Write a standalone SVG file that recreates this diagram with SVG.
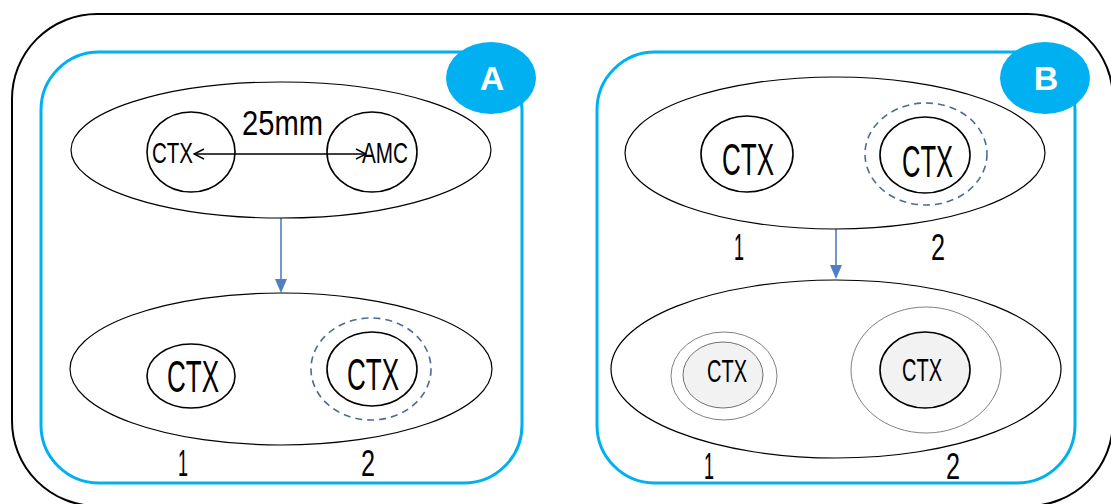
<svg xmlns="http://www.w3.org/2000/svg" width="1111" height="504" viewBox="0 0 1111 504">
<defs>
<style>
.t{font-family:"Liberation Sans",Arial,sans-serif;fill:#000;text-anchor:middle}
.big{font-size:45px}
.mid{font-size:31px}
.num{font-size:36px}
.panel{fill:none;stroke:#00B0F0;stroke-width:3}
.ell{fill:#fff;stroke:#000;stroke-width:1.2}
.cir{fill:none;stroke:#000;stroke-width:1.6}
.dash{fill:none;stroke:#4D6B94;stroke-width:1.6;stroke-dasharray:7 5}
.thin{fill:none;stroke:#808080;stroke-width:1}
.fillc{fill:#F2F2F2}
.badge{fill:#00B0F0}
.bt{font-family:"Liberation Sans",Arial,sans-serif;font-weight:bold;font-size:34px;fill:#fff;text-anchor:middle}
.flow{stroke:#4F7FC0;stroke-width:1.6;fill:none}
</style>
<marker id="open" viewBox="0 0 12 12" refX="11" refY="6" markerWidth="12" markerHeight="12" markerUnits="userSpaceOnUse" orient="auto-start-reverse">
<path d="M1,1 L11,6 L1,11" fill="none" stroke="#000" stroke-width="1.4"/>
</marker>
</defs>

<rect id="frame" x="12" y="14" width="1101" height="492" rx="85" fill="none" stroke="#000" stroke-width="2"/>

<g id="panelA">
<rect class="panel" x="41" y="52" width="481" height="431" rx="58"/>
</g>
<g id="panelB">
<rect class="panel" x="597" y="52" width="478" height="431" rx="58"/>
</g>

<g id="connectors">
<line class="flow" x1="281" y1="218" x2="281" y2="279" />
<path d="M275,279 L287,279 L281,293 Z" fill="#4F7FC0"/>
<line class="flow" x1="836" y1="229" x2="836" y2="265"/>
<path d="M830,265 L842,265 L836,279 Z" fill="#4F7FC0"/>
</g>

<g id="badgeA">
<ellipse class="badge" cx="491" cy="78" rx="45" ry="36"/>
<text class="bt" x="492" y="90">A</text>
</g>
<g id="badgeB">
<ellipse class="badge" cx="1045" cy="78" rx="45" ry="36"/>
<text class="bt" x="1046" y="90">B</text>
</g>

<g id="A-top">
<ellipse class="ell" cx="281" cy="150" rx="210" ry="68"/>
<ellipse class="cir" cx="191" cy="152" rx="44" ry="40"/>
<ellipse class="cir" cx="372" cy="152" rx="45" ry="40"/>
<text class="t" style="font-size:29px" x="172.5" y="163" textLength="41" lengthAdjust="spacingAndGlyphs">CTX</text>
<text class="t" style="font-size:29px" x="385" y="163" textLength="46" lengthAdjust="spacingAndGlyphs">AMC</text>
<text class="t" style="font-size:35px" x="282.5" y="135" textLength="81" lengthAdjust="spacingAndGlyphs">25mm</text>
<line x1="194" y1="154" x2="366" y2="154" stroke="#000" stroke-width="1.4" marker-start="url(#open)" marker-end="url(#open)"/>
</g>

<g id="A-bottom">
<ellipse class="ell" cx="281" cy="369" rx="211" ry="76"/>
<ellipse class="cir" cx="191" cy="376" rx="44" ry="32"/>
<text class="t big" x="193" y="392" textLength="52" lengthAdjust="spacingAndGlyphs">CTX</text>
<ellipse class="dash" cx="371" cy="369" rx="60" ry="51"/>
<ellipse class="cir" cx="372" cy="369" rx="45" ry="37"/>
<text class="t big" x="373" y="390" textLength="52" lengthAdjust="spacingAndGlyphs">CTX</text>
</g>
<text class="t num" x="183" y="476" textLength="10" lengthAdjust="spacingAndGlyphs">1</text>
<text class="t num" x="368" y="476" textLength="14" lengthAdjust="spacingAndGlyphs">2</text>

<g id="B-top">
<ellipse class="ell" cx="835" cy="153" rx="210" ry="76"/>
<ellipse class="cir" cx="747" cy="154" rx="46" ry="38"/>
<text class="t big" x="748" y="175" textLength="52" lengthAdjust="spacingAndGlyphs">CTX</text>
<ellipse class="dash" cx="926" cy="154" rx="61" ry="51"/>
<ellipse class="cir" cx="925" cy="155" rx="45" ry="38"/>
<text class="t big" x="927.5" y="177" textLength="51" lengthAdjust="spacingAndGlyphs">CTX</text>
</g>
<text class="t num" x="739" y="260" textLength="10" lengthAdjust="spacingAndGlyphs">1</text>
<text class="t num" x="938" y="260" textLength="14" lengthAdjust="spacingAndGlyphs">2</text>

<g id="B-bottom">
<ellipse class="ell" cx="836" cy="369" rx="225" ry="89"/>
<ellipse class="thin" cx="724" cy="376" rx="53" ry="44"/>
<ellipse class="fillc" cx="723" cy="375" rx="40" ry="33" stroke="#707070" stroke-width="1"/>
<text class="t mid" x="727" y="382" textLength="40" lengthAdjust="spacingAndGlyphs">CTX</text>
<ellipse class="thin" cx="926" cy="370" rx="75" ry="63"/>
<ellipse class="fillc" cx="925" cy="370" rx="45" ry="38" stroke="#000" stroke-width="1.6"/>
<text class="t mid" x="922" y="381" textLength="40" lengthAdjust="spacingAndGlyphs">CTX</text>
</g>
<text class="t num" x="709" y="479" textLength="10" lengthAdjust="spacingAndGlyphs">1</text>
<text class="t num" x="953" y="479" textLength="14" lengthAdjust="spacingAndGlyphs">2</text>
</svg>
